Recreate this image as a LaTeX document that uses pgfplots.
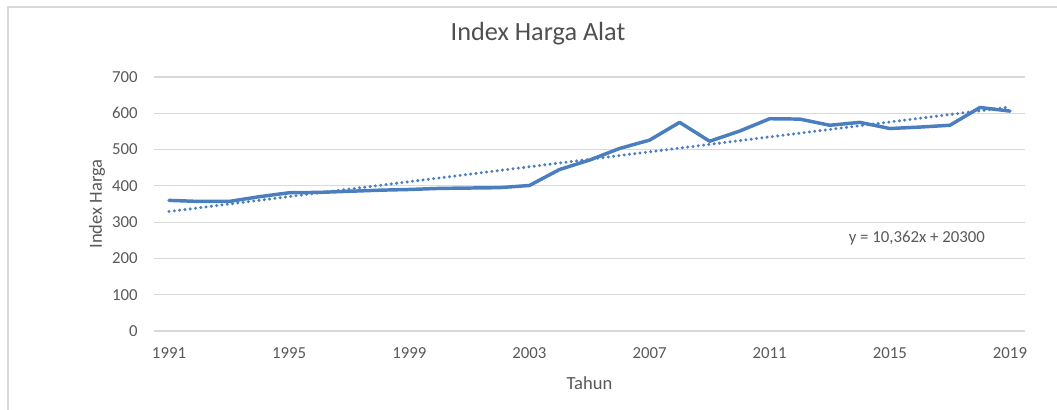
\documentclass[border=0pt]{standalone}
\usepackage{fontspec}
\setmainfont{Carlito}
\usepackage{pgfplots}
\usepackage{pgfplotstable}
\pgfplotsset{compat=1.18}
\definecolor{lineblue}{HTML}{4A7EBF}
\definecolor{gridgrey}{HTML}{D9D9D9}
\definecolor{txtgrey}{HTML}{595959}
\pgfplotstableread{
year val
1991 360
1992 357
1993 357
1994 370
1995 381
1996 382
1997 385
1998 388
1999 390
2000 393
2001 394
2002 395
2003 401
2004 445
2005 471
2006 503
2007 526
2008 575
2009 523
2010 551
2011 585
2012 584
2013 567
2014 575
2015 558
2016 562
2017 567
2018 616
2019 606
}\datatable
\begin{document}
\begin{tikzpicture}[x=0.75pt,y=0.75pt]
\useasboundingbox (0,0) rectangle (1057,410);
\draw[gridgrey, line width=1.3pt] (8,-5) -- (8,403) -- (1065,403);
\begin{axis}[
  at={(115.5pt,59.25pt)}, anchor=south west,
  scale only axis, width=653.25pt, height=190.5pt,
  xmin=1990.5, xmax=2019.5, ymin=0, ymax=700,
  xtick={1991,1995,...,2019}, ytick={0,100,...,700},
  /pgf/number format/1000 sep={},
  /pgf/number format/assume math mode=true,
  axis line style={draw=none},
  major tick length=0pt,
  ymajorgrids, grid style={gridgrey, line width=0.8pt},
  ticklabel style={font=\fontsize{12.6}{14}\selectfont, text=txtgrey},
  xticklabel style={anchor=center, yshift=-16.5pt},
  yticklabel style={anchor=east, inner sep=0pt, xshift=-12pt},
  title={Index Harga Alat},
  title style={font=\fontsize{19.7}{22}\selectfont, text=txtgrey!90!black, at={(axis description cs:0.5,1)}, anchor=center, xshift=-38.6pt, yshift=26.25pt},
  xlabel={Tahun}, ylabel={Index Harga},
  label style={font=\fontsize{13.9}{16}\selectfont, text=txtgrey},
  xlabel style={at={(axis description cs:0.5,0)}, anchor=center, yshift=-39pt},
  ylabel style={at={(axis description cs:0,0.5)}, anchor=center, yshift=42.75pt},
  clip=false,
]
\addplot[lineblue, line width=2.6pt, line join=round, line cap=round] table[x=year,y=val] {\datatable};
\addplot[lineblue, line width=2.5pt, line cap=round, dash pattern=on 0pt off 4pt] table[x=year, y={create col/linear regression={y=val}}] {\datatable};
\node[font=\fontsize{12.6}{14}\selectfont, text=txtgrey] at (axis cs:2015.9,256) {y = 10,362x + 20300};
\end{axis}
\end{tikzpicture}
\end{document}
